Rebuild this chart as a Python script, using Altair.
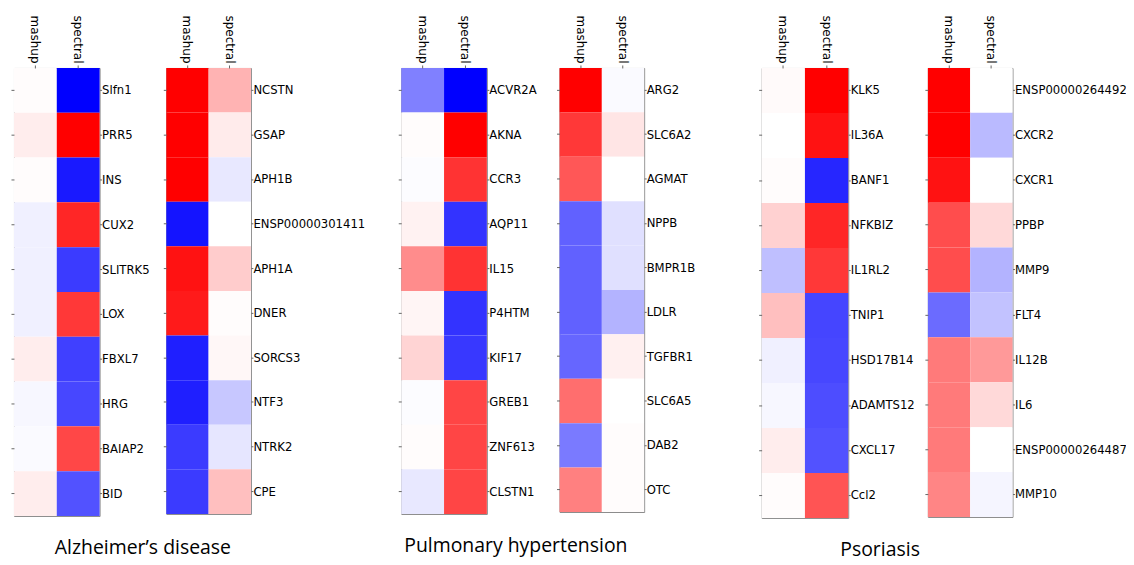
import altair as alt
import pandas as pd

methods = ["mashup", "spectral"]

# Alzheimer's disease
ad1_genes = ["Slfn1", "PRR5", "INS", "CUX2", "SLITRK5", "LOX", "FBXL7", "HRG", "BAIAP2", "BID"]
ad1_mashup = [0.01, 0.07, 0.01, -0.06, -0.06, -0.06, 0.07, -0.03, -0.02, 0.07]
ad1_spectral = [-1.0, 1.0, -0.9, 0.85, -0.77, 0.78, -0.75, -0.72, 0.72, -0.68]

ad2_genes = ["NCSTN", "GSAP", "APH1B", "ENSP00000301411", "APH1A", "DNER", "SORCS3", "NTF3", "NTRK2", "CPE"]
ad2_mashup = [1.0, 1.0, 1.0, -0.92, 0.93, 0.9, -0.88, -0.88, -0.77, -0.77]
ad2_spectral = [0.3, 0.08, -0.09, 0.0, 0.2, 0.01, 0.03, -0.22, -0.1, 0.25]

# Pulmonary hypertension
ph1_genes = ["ACVR2A", "AKNA", "CCR3", "AQP11", "IL15", "P4HTM", "KIF17", "GREB1", "ZNF613", "CLSTN1"]
ph1_mashup = [-0.5, 0.01, -0.01, 0.05, 0.45, 0.04, 0.17, -0.01, 0.01, -0.09]
ph1_spectral = [-1.0, 1.0, 0.8, -0.8, 0.8, -0.8, -0.78, 0.73, 0.73, 0.73]

ph2_genes = ["ARG2", "SLC6A2", "AGMAT", "NPPB", "BMPR1B", "LDLR", "TGFBR1", "SLC6A5", "DAB2", "OTC"]
ph2_mashup = [1.0, 0.78, 0.66, -0.62, -0.62, -0.62, -0.6, 0.57, -0.52, 0.5]
ph2_spectral = [-0.02, 0.1, 0.0, -0.12, -0.12, -0.3, 0.06, 0.0, 0.01, 0.01]

# Psoriasis
ps1_genes = ["KLK5", "IL36A", "BANF1", "NFKBIZ", "IL1RL2", "TNIP1", "HSD17B14", "ADAMTS12", "CXCL17", "Ccl2"]
ps1_mashup = [0.02, 0.0, 0.01, 0.18, -0.25, 0.25, -0.06, -0.03, 0.07, 0.01]
ps1_spectral = [1.0, 0.93, -0.85, 0.85, 0.78, -0.73, -0.72, -0.7, -0.68, 0.67]

ps2_genes = ["ENSP00000264492", "CXCR2", "CXCR1", "PPBP", "MMP9", "FLT4", "IL12B", "IL6", "ENSP00000264487", "MMP10"]
ps2_mashup = [1.0, 1.0, 0.93, 0.7, 0.7, -0.58, 0.52, 0.52, 0.52, 0.48]
ps2_spectral = [0.0, -0.27, 0.0, 0.15, -0.3, -0.24, 0.4, 0.15, 0.0, -0.04]

titles = ["Alzheimer\u2019s disease", "Pulmonary hypertension", "Psoriasis"]

color_scale = alt.Scale(domain=[-1, 0, 1], range=["#0000ff", "#ffffff", "#ff0000"], interpolate="rgb")


def panel(genes, mash, spec, w, h):
    rows = []
    for g, m, s in zip(genes, mash, spec):
        rows.append({"gene": g, "method": "mashup", "value": m})
        rows.append({"gene": g, "method": "spectral", "value": s})
    df = pd.DataFrame(rows)
    xax = alt.X("method:N", sort=methods, title=None,
                axis=alt.Axis(orient="top", labelAngle=90, labelAlign="right", labelBaseline="middle",
                              tickSize=3, domain=False, labelPadding=2, tickColor="#666",
                              labelFontSize=12))
    rect = alt.Chart(df).mark_rect().encode(
        x=xax,
        y=alt.Y("gene:N", sort=genes, title=None,
                axis=alt.Axis(orient="right", tickSize=2, domain=False, labelPadding=0, tickColor="#666",
                              labelFontSize=11.7)),
        color=alt.Color("value:Q", scale=color_scale, legend=None),
    )
    left = alt.Chart(df).mark_rect(opacity=0).encode(
        x=xax,
        y=alt.Y("gene:N", sort=genes, title=None,
                axis=alt.Axis(orient="left", labels=False, tickSize=3, domain=False, tickColor="#666")),
    )
    return alt.layer(rect, left).resolve_axis(y="independent").properties(width=w, height=h)


p1 = panel(ad1_genes, ad1_mashup, ad1_spectral, 86, 450)
p2 = panel(ad2_genes, ad2_mashup, ad2_spectral, 85, 448)
p3 = panel(ph1_genes, ph1_mashup, ph1_spectral, 86, 448)
p4 = panel(ph2_genes, ph2_mashup, ph2_spectral, 85, 446)
p5 = panel(ps1_genes, ps1_mashup, ps1_spectral, 87, 452)
p6 = panel(ps2_genes, ps2_mashup, ps2_spectral, 85, 451)


def ttl(t, dx):
    return alt.TitleParams(t, orient="bottom", anchor="start", dx=dx, fontSize=19.5, font="Open Sans",
                           fontWeight="normal", offset=23, color="black")


g1 = alt.hconcat(p1, p2, spacing=12, title=ttl(titles[0], 45))
g2 = alt.hconcat(p3, p4, spacing=19, title=ttl(titles[1], 7))
g3 = alt.hconcat(p5, p6, spacing=9, title=ttl(titles[2], 83))

chart = alt.hconcat(
    alt.hconcat(g1, g2, spacing=32),
    g3, spacing=62
).properties(
    padding={"left": 2, "top": 5, "right": -1, "bottom": -2}
).configure_view(
    stroke="#888", strokeWidth=1
).configure_axis(
    labelFont="DejaVu Sans", labelFontSize=12, labelColor="black"
)

chart.save("out.html", embed_options={"renderer": "svg", "actions": False})
